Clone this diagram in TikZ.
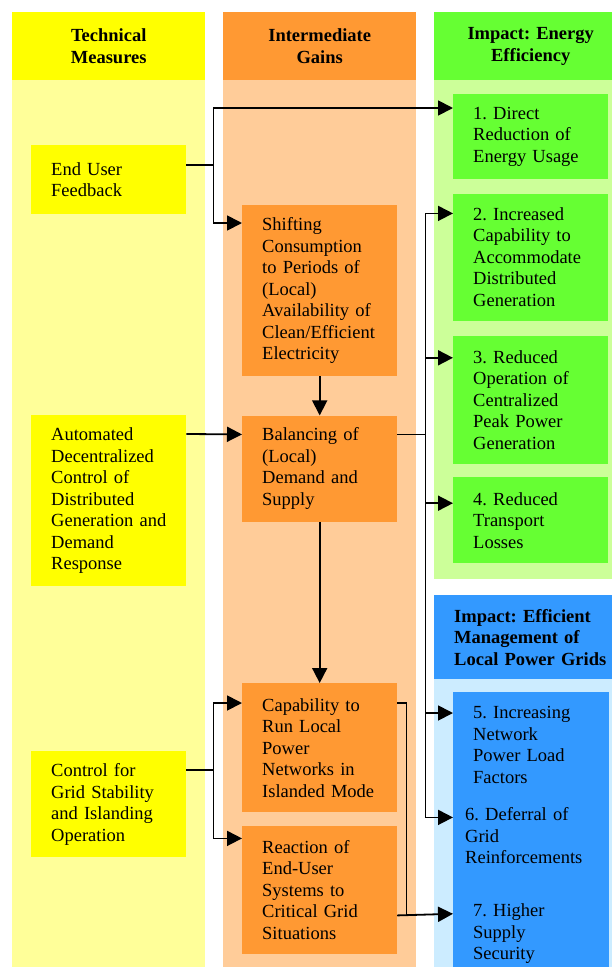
\documentclass[tikz,border=0pt]{standalone}
\usepackage{fontspec}
\setmainfont{Liberation Serif}
\frenchspacing
\usetikzlibrary{positioning, arrows.meta}
\definecolor{measure}{HTML}{FFFF00}
\definecolor{measurelight}{HTML}{FFFF99}
\definecolor{gain}{HTML}{FF9933}
\definecolor{gainlight}{HTML}{FFCC99}
\definecolor{energy}{HTML}{66FF33}
\definecolor{energylight}{HTML}{CCFF99}
\definecolor{grid}{HTML}{3399FF}
\definecolor{gridlight}{HTML}{CCECFF}
\tikzset{
    >={Triangle[length=15pt, width=15pt]}, % big filled arrow heads
    every node/.style={font=\fontsize{18.5pt}{21.5pt}\selectfont}, % text size of all boxes
    head/.style={anchor=north west, minimum width=193pt, text width=153pt, inner xsep=20pt, inner ysep=0pt, align=center, font=\fontsize{18.5pt}{21.5pt}\selectfont\bfseries}, % column titles
    box/.style={anchor=north west, text width=115pt, inner xsep=20pt, inner ysep=0pt, align=left}, % the boxes
    link/.style={line width=1.8pt}, % connectors
}

\begin{document}
\begin{tikzpicture}[x=1pt, y=-1pt]
    \useasboundingbox (0,0) rectangle (612,967);
    % column backgrounds
    \fill[measurelight] (12,80) rectangle (205,1000);
    \fill[gainlight] (223,80) rectangle (416,1000);
    \fill[energylight] (434,80) rectangle (627,579);
    \fill[gridlight] (434,679) rectangle (627,1000);

    \node[head, fill=measure, minimum height=68pt] (tm) at (12,12) {Technical\\Measures};
    \node[head, fill=gain, minimum height=68pt] (ig) at (223,12) {Intermediate\\Gains};
    \node[head, fill=energy, minimum height=68pt] (ee) at (434,12) {Impact: Energy\\Efficiency};
    \node[head, fill=grid, minimum height=84pt, align=left] (gm) at (434,595) {Impact: Efficient\\Management of\\Local Power Grids};

    \node[box, fill=measure, minimum height=69pt] (euf) at (31,145) {End User\\Feedback};
    \node[box, fill=measure, minimum height=171pt] (auto) at (31,415) {Automated\\Decentralized\\Control of\\Distributed\\Generation~and\\Demand\\Response};
    \node[box, fill=measure, minimum height=106pt] (ctrl) at (31,751) {Control for\\Grid~Stability\\and~Islanding\\Operation};

    \node[box, fill=gain, minimum height=171pt] (shift) at (242,205) {Shifting\\Consumption\\to~Periods~of\\(Local)\\Availability~of\\Clean/Efficient\\Electricity};
    \node[box, fill=gain, minimum height=106pt, below=39pt of shift] (bal) {Balancing of\\(Local)\\Demand and\\Supply};
    \node[box, fill=gain, minimum height=129pt] (cap) at (242,683) {Capability~to\\Run Local\\Power\\Networks~in\\Islanded~Mode};
    \node[box, fill=gain, minimum height=128pt, below=13pt of cap] (react) {Reaction of\\End-User\\Systems to\\Critical~Grid\\Situations};

    \node[box, fill=energy, minimum height=85pt] (ee1) at (453,94) {1. Direct\\Reduction~of\\Energy~Usage};
    \node[box, fill=energy, minimum height=127pt, below=14pt of ee1] (ee2) {2. Increased\\Capability~to\\Accommodate\\Distributed\\Generation};
    \node[box, fill=energy, minimum height=128pt, below=15pt of ee2] (ee3) {3. Reduced\\Operation~of\\Centralized\\Peak~Power\\Generation};
    \node[box, fill=energy, minimum height=86pt, below=13pt of ee3] (ee4) {4. Reduced\\Transport\\Losses};

    \node[box, fill=grid, draw=grid, minimum height=106pt] (gm5) at (453,692) {5.~Increasing\\Network\\Power~Load\\Factors};
    \node[box, fill=grid, draw=grid, minimum height=76pt, text width=131pt, inner xsep=12pt, below=-1pt of gm5] (gm6) {6.~Deferral~of\\Grid\\Reinforcements};
    \node[box, fill=grid, draw=grid, minimum height=122pt, below=-1pt of gm6] (gm7) {7. Higher\\Supply\\Security};

    \draw[link, ->] ([yshift=-20pt]euf.north east) -- ++(27pt,0) coordinate (fb) |- ([yshift=-14pt]ee1.north west);
    \draw[link, ->] (fb) |- ([yshift=-18pt]shift.north west);
    \draw[link, ->] (shift) -- (bal);
    \draw[link, ->] ([yshift=-19pt]auto.north east) -- ([yshift=-19pt]bal.north west);
    \draw[link, ->] (bal) -- (cap);
    \draw[link] ([yshift=-19pt]bal.north east) -- ++(28pt,0) coordinate (bus);
    \foreach \t/\d in {ee2/20, ee3/22, ee4/26, gm5/21, gm6/20}
        \draw[link, ->] (bus) |- ([yshift=-\d pt]\t.north west);
    \draw[link, ->] ([yshift=-19pt]ctrl.north east) -- ++(27pt,0) coordinate (cs) |- ([yshift=-20pt]cap.north west);
    \draw[link, ->] (cs) |- ([yshift=-13pt]react.north west);
    \draw[line width=1.3pt] ([yshift=-20pt]cap.north east) -- ++(9pt,0) |- ([yshift=-90pt]react.north east);
    \draw[link, ->] ([yshift=-90pt]react.north east) -- ([yshift=-41pt]gm7.north west);
\end{tikzpicture}
\end{document}
